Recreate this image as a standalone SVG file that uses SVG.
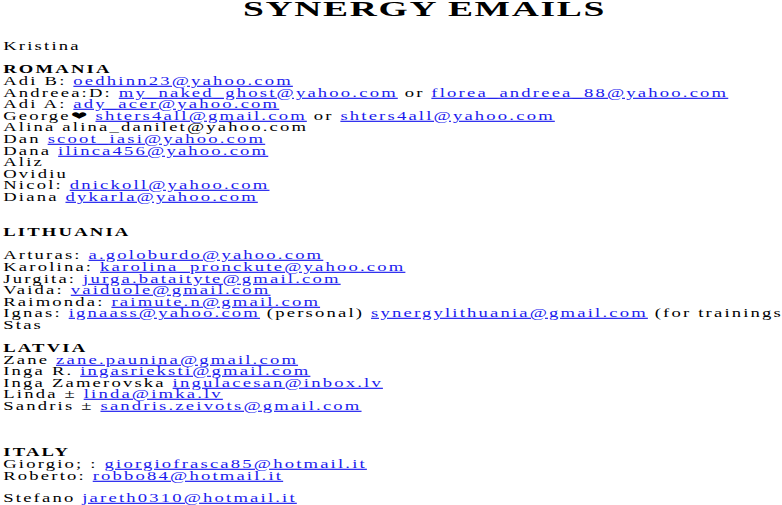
<svg xmlns="http://www.w3.org/2000/svg" width="782" height="505" viewBox="0 0 782 505">
<style>
text{font-family:"Liberation Serif",serif;font-size:11.5px;fill:#000;letter-spacing:1.35px}
.h{font-weight:bold}
.l{fill:#1a1aee;text-decoration:underline}
.t{font-size:22px;font-weight:bold;letter-spacing:1px}
</style>
<rect width="782" height="505" fill="#fff"/>
<text class="t" x="243" y="16" textLength="363" lengthAdjust="spacingAndGlyphs">SYNERGY  EMAILS</text>
<g transform="scale(1.62,1)">
<text x="2" y="50">Kristina</text>
<text class="h" x="2" y="73">ROMANIA</text>
<text x="2" y="85">Adi B: <tspan class="l">oedhinn23@yahoo.com</tspan></text>
<text x="2" y="97">Andreea:D: <tspan class="l">my_naked_ghost@yahoo.com</tspan> or <tspan class="l">florea_andreea_88@yahoo.com</tspan></text>
<text x="2" y="108">Adi A: <tspan class="l">ady_acer@yahoo.com</tspan></text>
<text x="2" y="120">George❤ <tspan class="l">shters4all@gmail.com</tspan> or <tspan class="l">shters4all@yahoo.com</tspan></text>
<text x="2" y="131">Alina  alina_danilet@yahoo.com</text>
<text x="2" y="143">Dan <tspan class="l">scoot_iasi@yahoo.com</tspan></text>
<text x="2" y="155">Dana <tspan class="l">ilinca456@yahoo.com</tspan></text>
<text x="2" y="166">Aliz</text>
<text x="2" y="178">Ovidiu</text>
<text x="2" y="189">Nicol:  <tspan class="l">dnickoll@yahoo.com</tspan></text>
<text x="2" y="201">Diana <tspan class="l">dykarla@yahoo.com</tspan></text>
<text class="h" x="2" y="236">LITHUANIA</text>
<text x="2" y="259">Arturas: <tspan class="l">a.goloburdo@yahoo.com</tspan></text>
<text x="2" y="271">Karolina: <tspan class="l">karolina_pronckute@yahoo.com</tspan></text>
<text x="2" y="283">Jurgita: <tspan class="l">jurga.bataityte@gmail.com</tspan></text>
<text x="2" y="294">Vaida: <tspan class="l">vaiduole@gmail.com</tspan></text>
<text x="2" y="306">Raimonda: <tspan class="l">raimute.n@gmail.com</tspan></text>
<text x="2" y="317">Ignas: <tspan class="l">ignaass@yahoo.com</tspan> (personal) <tspan class="l">synergylithuania@gmail.com</tspan> (for trainings)</text>
<text x="2" y="329">Stas</text>
<text class="h" x="2" y="352">LATVIA</text>
<text x="2" y="364">Zane <tspan class="l">zane.paunina@gmail.com</tspan></text>
<text x="2" y="375">Inga R. <tspan class="l">ingasrieksti@gmail.com</tspan></text>
<text x="2" y="387">Inga Zamerovska <tspan class="l">ingulacesan@inbox.lv</tspan></text>
<text x="2" y="398">Linda ± <tspan class="l">linda@imka.lv</tspan></text>
<text x="2" y="410">Sandris ± <tspan class="l">sandris.zeivots@gmail.com</tspan></text>
<text class="h" x="2" y="456">ITALY</text>
<text x="2" y="468">Giorgio; : <tspan class="l">giorgiofrasca85@hotmail.it</tspan></text>
<text x="2" y="480">Roberto: <tspan class="l">robbo84@hotmail.it</tspan></text>
<text x="2" y="502">Stefano <tspan class="l">jareth0310@hotmail.it</tspan></text>
</g>
</svg>
